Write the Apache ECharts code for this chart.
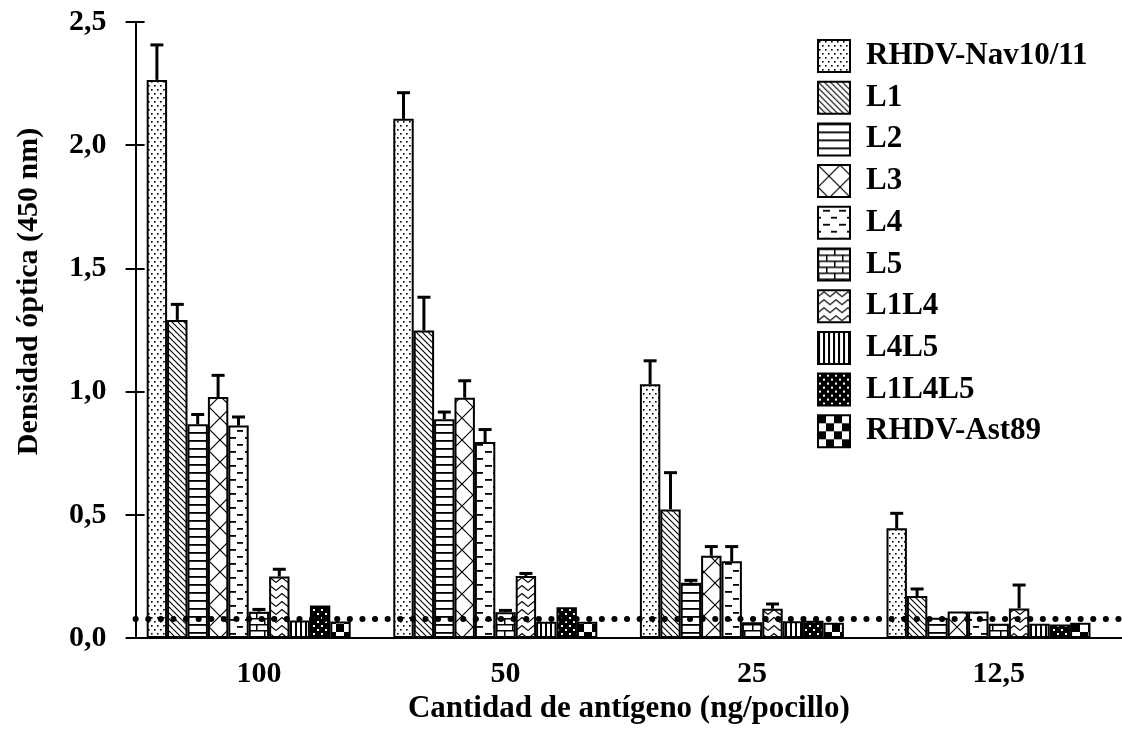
<!DOCTYPE html>
<html>
<head>
<meta charset="utf-8">
<script src="https://cdn.jsdelivr.net/npm/echarts@6/dist/echarts.min.js"></script>
<style>
html,body{margin:0;padding:0;background:#fff;}
#chart{width:1122px;height:733px;}
</style>
</head>
<body>
<div id="chart"></div>
<script>
// ---- data ----
const categories = ['100', '50', '25', '12,5'];
const seriesNames = ['RHDV-Nav10/11', 'L1', 'L2', 'L3', 'L4', 'L5', 'L1L4', 'L4L5', 'L1L4L5', 'RHDV-Ast89'];
const valNav    = [2.265, 2.107, 1.030, 0.445];
const valL1     = [1.291, 1.248, 0.522, 0.170];
const valL2     = [0.867, 0.888, 0.224, 0.082];
const valL3     = [0.978, 0.975, 0.334, 0.108];
const valL4     = [0.862, 0.795, 0.311, 0.108];
const valL5     = [0.107, 0.105, 0.064, 0.058];
const valL1L4   = [0.250, 0.252, 0.119, 0.120];
const valL4L5   = [0.071, 0.066, 0.068, 0.058];
const valL1L4L5 = [0.132, 0.125, 0.070, 0.055];
const valAst89  = [0.067, 0.066, 0.062, 0.062];
// upper error (SD) per bar, null = none drawn
const errNav    = [0.142, 0.106, 0.095, 0.061];
const errL1     = [0.063, 0.135, 0.149, 0.029];
const errL2     = [0.040, 0.029, 0.010, null];
const errL3     = [0.088, 0.069, 0.037, null];
const errL4     = [0.035, 0.051, 0.060, null];
const errL5     = [0.009, 0.007, null, null];
const errL1L4   = [0.029, 0.010, 0.019, 0.095];
const errL4L5   = [null, null, null, null];
const errL1L4L5 = [null, null, null, null];
const errAst89  = [null, null, null, null];
const cutoff = 0.078;
const yTicks = [0, 0.5, 1.0, 1.5, 2.0, 2.5];

const values = [valNav, valL1, valL2, valL3, valL4, valL5, valL1L4, valL4L5, valL1L4L5, valAst89];
const errors = [errNav, errL1, errL2, errL3, errL4, errL5, errL1L4, errL4L5, errL1L4L5, errAst89];

// ---- patterns ----
function pat(w, h, draw) {
  const c = document.createElement('canvas');
  c.width = w; c.height = h;
  const g = c.getContext('2d');
  g.fillStyle = '#fff'; g.fillRect(0, 0, w, h);
  g.fillStyle = '#000'; g.strokeStyle = '#000';
  draw(g);
  return { image: c, repeat: 'repeat' };
}
const patterns = [
  pat(6, 8, g => { g.fillRect(1, 1, 1.6, 1.6); g.fillRect(4, 5, 1.6, 1.6); }),
  pat(6, 6, g => { g.lineWidth = 1.1; g.beginPath(); g.moveTo(-1, -1); g.lineTo(7, 7); g.moveTo(-1, 5); g.lineTo(1, 7); g.moveTo(5, -1); g.lineTo(7, 1); g.stroke(); }),
  pat(8, 8, g => { g.fillRect(0, 0, 8, 1.8); }),
  pat(22, 22, g => { g.lineWidth = 1.2; g.beginPath(); g.moveTo(0, 0); g.lineTo(22, 22); g.moveTo(22, 0); g.lineTo(0, 22); g.stroke(); }),
  pat(16, 14, g => { g.fillRect(5, 3, 7, 1.8); g.fillRect(0, 10, 3, 1.8); g.fillRect(13, 10, 3, 1.8); }),
  pat(16, 12, g => { g.fillRect(0, 0, 16, 1.5); g.fillRect(0, 6, 16, 1.5); g.fillRect(0, 0, 1.5, 6); g.fillRect(8, 6, 1.5, 6); }),
  pat(12, 8, g => { g.lineWidth = 1.1; g.beginPath(); g.moveTo(0, 6.5); g.lineTo(6, 1.5); g.lineTo(12, 6.5); g.stroke(); }),
  pat(5, 5, g => { g.fillRect(0, 0, 2, 5); }),
  pat(8, 8, g => { g.fillRect(0, 0, 8, 8); g.fillStyle = '#fff'; g.fillRect(1, 1, 2, 2); g.fillRect(5, 5, 2, 2); }),
  pat(16, 16, g => { g.fillRect(0, 0, 8, 8); g.fillRect(8, 8, 8, 8); })
];

const FONT = '"Liberation Serif", "Times New Roman", serif';
const SLOTS = seriesNames.length + 1; // one empty slot after the group
const CAT_GAP = 0.09;

const series = [];
seriesNames.forEach((name, i) => {
  series.push({
    name: name, type: 'bar', data: values[i],
    barGap: '0%', barCategoryGap: (CAT_GAP * 100) + '%',
    itemStyle: { color: patterns[i], borderColor: '#000', borderWidth: 2 },
    emphasis: { disabled: true }, z: 2
  });
});
// empty spacer slot (no data) so groups sit left of the band centre as in the source
series.push({
  name: '_spacer', type: 'bar', data: [],
  barGap: '0%', barCategoryGap: (CAT_GAP * 100) + '%',
  markLine: {
    silent: true, symbol: ['none', 'none'], z: 6,
    label: { show: false },
    lineStyle: { color: '#000', width: 6, type: [0.1, 12.5], cap: 'round' },
    data: [{ yAxis: cutoff }]
  }
});
// error bars
seriesNames.forEach((name, i) => {
  const d = [];
  categories.forEach((c, k) => {
    if (errors[i][k] != null) d.push([k, values[i][k], values[i][k] + errors[i][k]]);
  });
  series.push({
    type: 'custom', z: 3, silent: true,
    data: d,
    renderItem: function (params, api) {
      const k = api.value(0);
      const base = api.coord([k, api.value(1)]);
      const top = api.coord([k, api.value(2)]);
      const band = api.size([1, 0])[0];
      const used = band * (1 - CAT_GAP);
      const bw = used / SLOTS;
      const x = base[0] - used / 2 + bw * (i + 0.5);
      return {
        type: 'group', children: [
          { type: 'line', shape: { x1: x, y1: base[1], x2: x, y2: top[1] }, style: { stroke: '#000', lineWidth: 3 } },
          { type: 'line', shape: { x1: x - 6.5, y1: top[1], x2: x + 6.5, y2: top[1] }, style: { stroke: '#000', lineWidth: 3 } }
        ]
      };
    }
  });
});

const chart = echarts.init(document.getElementById('chart'), null, { renderer: 'canvas' });
chart.setOption({
  animation: false,
  backgroundColor: '#fff',
  grid: { left: 135.6, right: -5, top: 22, bottom: 95, containLabel: false },
  legend: {
    data: seriesNames, orient: 'vertical', left: 817, top: 39, padding: 0,
    itemWidth: 32, itemHeight: 32, itemGap: 7.7, icon: 'rect', selectedMode: false,
    textStyle: { fontFamily: FONT, fontWeight: 'bold', fontSize: 31, lineHeight: 32, color: '#000', padding: [0, 0, 0, 11] }
  },
  xAxis: [{
    type: 'category', data: categories, position: 'bottom',
    axisLine: { lineStyle: { color: '#000', width: 2 } },
    axisTick: { show: false },
    axisLabel: { fontFamily: FONT, fontWeight: 'bold', fontSize: 30, color: '#000', margin: 21 },
    name: 'Cantidad de antígeno (ng/pocillo)', nameLocation: 'middle', nameGap: 50,
    nameTextStyle: { fontFamily: FONT, fontWeight: 'bold', fontSize: 31, color: '#000' }
  }, {
    type: 'category', data: categories, position: 'top',
    axisLine: { lineStyle: { color: '#000', width: 2 } },
    axisTick: { show: false }, axisLabel: { show: false }
  }],
  yAxis: [{
    type: 'value', min: yTicks[0], max: yTicks[yTicks.length - 1], interval: 0.5,
    axisLine: { show: true, lineStyle: { color: '#000', width: 2 } },
    axisTick: { show: true, length: 10, lineStyle: { color: '#000', width: 2 } },
    splitLine: { show: false },
    axisLabel: {
      fontFamily: FONT, fontWeight: 'bold', fontSize: 30, color: '#000', margin: 29,
      formatter: v => v.toFixed(1).replace('.', ',')
    },
    name: 'Densidad óptica (450 nm)', nameLocation: 'middle', nameRotate: 90, nameGap: 91,
    nameTextStyle: { fontFamily: FONT, fontWeight: 'bold', fontSize: 30, color: '#000', padding: [0, 0, 0, 77] }
  }, {
    type: 'value', min: yTicks[0], max: yTicks[yTicks.length - 1], interval: 0.5, position: 'left',
    axisLine: { show: false },
    axisTick: { show: true, inside: true, length: 9, lineStyle: { color: '#000', width: 2 } },
    axisLabel: { show: false }, splitLine: { show: false }
  }],
  series: series
});
</script>
</body>
</html>
